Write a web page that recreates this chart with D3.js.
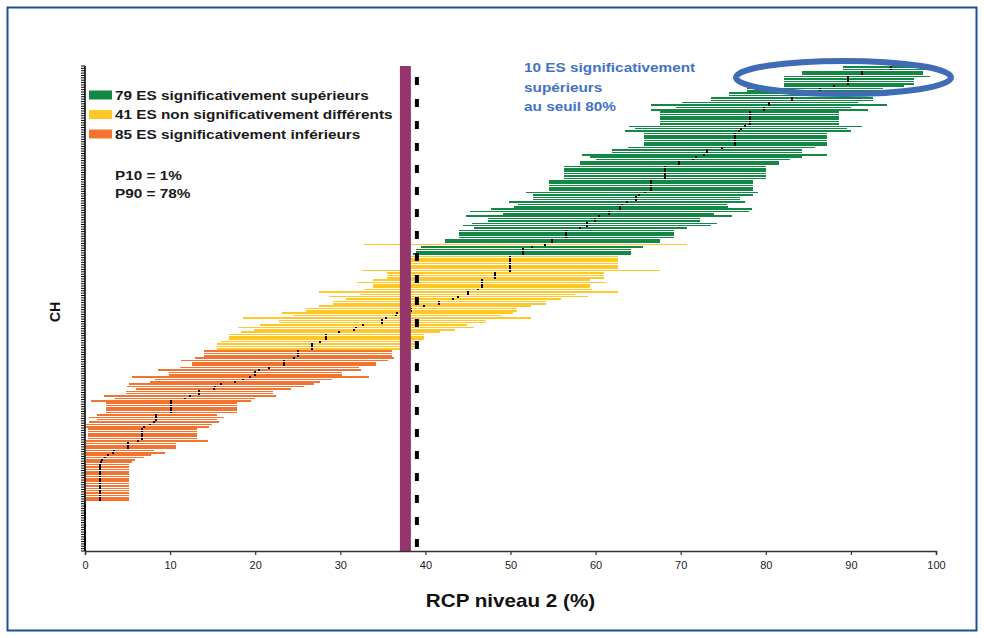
<!DOCTYPE html>
<html>
<head>
<meta charset="utf-8">
<script src="https://cdn.jsdelivr.net/npm/d3@7"></script>
<style>
  html, body { margin: 0; padding: 0; background: #ffffff; }
  svg { display: block; }
  text { font-family: "Liberation Sans", Arial, sans-serif; }
</style>
</head>
<body>
<svg id="chart" width="984" height="638"></svg>
<script>
// ---------------- DATA (rows from top to bottom, sorted by estimate) ----------------
// group: S = significativement supérieur, N = non significativement différent, I = significativement inférieur
const group = [
  "S","S","S","S","S","S","S","S","S","S","S","S","S","S","S","S","S","S","S","S",
  "S","S","S","S","S","S","S","S","S","S","S","S","S","S","S","S","S","S","S","S",
  "S","S","S","S","S","S","S","S","S","S","S","S","S","S","S","S","S","S","S","S",
  "S","S","S","S","S","S","S","S","S","S","S","S","S","S","S","N","S","S","S","S",
  "N","N","N","N","N","N","N","N","N","N","N","N","N","N","N","N","N","N","N","N",
  "N","N","N","N","N","N","N","N","N","N","N","N","N","N","N","N","N","N","N","N",
  "I","I","I","I","I","I","I","I","I","I","I","I","I","I","I","I","I","I","I","I",
  "I","I","I","I","I","I","I","I","I","I","I","I","I","I","I","I","I","I","I","I",
  "I","I","I","I","I","I","I","I","I","I","I","I","I","I","I","I","I","I","I","I",
  "I","I","I","I","I","I","I","I","I","I","I","I","I","I","I","I","I","I","I","I",
  "I","I","I","I","I"
];
const low = [
  89.1,89.1,84.3,84.3,82.1,82.1,82.1,82.1,82.1,77.8,77.8,75.7,75.7,73.6,73.6,70.2,66.5,69.5,66.5,67.6,
  67.6,67.6,67.6,67.6,67.6,63.9,64.6,63.5,65.7,65.7,65.7,65.7,65.7,65.7,63.8,61.9,61.9,58.4,59.3,60.0,
  58.2,58.2,56.3,56.3,56.3,56.3,56.3,56.3,54.5,54.5,54.5,54.5,54.5,51.8,52.6,52.6,52.6,49.8,50.9,50.4,
  47.7,45.2,49.1,44.8,47.4,47.4,45.5,44.4,45.7,43.9,43.9,43.9,43.9,42.3,42.3,32.8,39.5,38.9,38.9,38.6,
  37.4,37.4,37.4,37.4,37.4,37.4,32.5,35.5,35.5,35.5,33.8,32.0,33.8,33.8,32.9,27.5,32.3,28.7,30.7,29.1,
  29.1,27.5,26.0,26.0,23.1,24.4,18.6,22.8,22.8,20.6,18.0,19.9,18.3,16.9,16.9,16.9,16.0,15.5,15.5,15.5,
  14.0,14.0,14.0,12.9,11.3,12.6,12.6,11.2,8.6,9.9,9.9,5.5,8.2,7.6,5.2,4.9,6.0,4.8,4.8,2.2,
  3.5,0.7,2.5,2.5,2.5,2.5,2.5,1.4,0.5,1.4,0.5,0.1,0.1,0.35,0.35,0.35,0.35,0.35,0.1,0.1,
  0.1,0.1,0.1,0.1,0.1,0.1,0.1,0.1,0,0,0,0,0,0,0,0,0,0,0,0,
  0,0,0,0,0,0,0,0,0,0,0,0,0,0,0,0,0,0,0,0,
  0,0,0,0,0
];
const estimate = [
  94.7,94.7,91.3,91.3,89.7,89.7,89.7,89.7,88.0,86.4,86.4,84.7,84.7,83.1,83.1,80.4,80.4,79.8,79.8,78.1,
  78.1,78.1,78.1,78.1,78.1,77.6,77.1,76.8,76.4,76.4,76.4,76.4,76.4,76.4,74.8,73.1,73.1,72.7,71.8,71.4,
  69.8,69.8,68.2,68.2,68.2,68.2,68.2,68.2,66.5,66.5,66.5,66.5,66.5,65.8,65.1,64.8,64.8,63.7,63.1,62.9,
  62.9,61.6,61.6,60.4,59.9,59.9,59.0,59.0,58.2,56.5,56.5,56.5,56.5,54.9,54.9,54.1,52.5,51.5,51.5,51.5,
  49.9,49.9,49.9,49.9,49.9,49.9,49.9,48.2,48.2,48.2,46.6,46.6,46.6,46.6,46.2,45.0,45.0,43.8,43.2,41.6,
  41.6,39.8,38.3,38.3,36.7,36.5,35.4,34.9,34.9,32.7,31.8,31.6,29.9,28.3,28.3,28.3,27.6,26.7,26.7,26.7,
  25.0,25.0,25.0,24.6,23.4,23.4,23.4,21.6,20.4,20.0,20.0,19.4,18.6,17.6,16.0,15.3,15.1,13.4,13.4,12.3,
  11.7,10.1,10.1,10.1,10.1,10.1,10.1,8.4,8.4,8.4,8.1,7.6,6.9,6.7,6.7,6.7,6.7,6.7,6.2,5.1,
  5.1,5.1,3.4,3.3,2.7,2.4,2.0,1.9,1.8,1.8,1.8,1.8,1.8,1.8,1.8,1.8,1.8,1.8,1.8,1.8,
  1.8,1.8,1.8,1.8,0,0,0,0,0,0,0,0,0,0,0,0,0,0,0,0,
  0,0,0,0,0
];
const high = [
  99.3,99.5,98.5,98.5,99.3,97.4,97.4,97.4,96.2,93.8,93.8,92.6,93.9,92.6,92.6,90.8,94.3,90.0,92.0,88.6,
  88.6,88.6,88.6,88.6,88.6,91.3,89.5,90.0,87.2,87.2,87.2,87.2,87.2,87.2,85.8,84.3,84.3,87.2,84.3,82.9,
  81.5,81.5,80.0,80.0,80.0,80.0,80.0,80.0,78.5,78.5,78.5,78.5,78.5,79.1,78.5,77.0,77.0,77.6,75.4,75.6,
  78.4,78.0,73.9,76.0,72.3,72.3,74.3,73.6,70.7,69.2,69.2,69.2,69.2,67.6,67.6,70.7,65.6,64.2,64.2,64.2,
  62.6,62.6,62.6,62.6,62.6,62.6,67.6,61.0,61.0,61.0,59.3,61.2,59.3,59.3,59.6,62.6,57.6,59.1,55.9,54.2,
  54.2,52.4,50.8,50.8,50.3,48.9,52.4,47.1,47.1,44.9,45.7,43.5,41.7,39.8,39.8,39.8,39.2,39.2,38.9,38.6,
  36.1,36.1,36.1,36.3,35.6,34.2,34.2,32.2,32.4,30.2,30.2,33.4,29.0,27.6,26.9,25.7,24.2,22.1,22.1,22.4,
  20.0,19.5,17.9,17.9,17.9,17.9,17.9,15.5,16.3,15.5,15.7,14.9,14.6,13.2,13.2,13.2,13.2,13.2,14.5,10.7,
  10.7,10.7,8.1,9.4,7.8,6.9,5.9,5.5,5.2,5.2,5.2,5.2,5.2,5.2,5.2,5.2,5.2,5.2,5.2,5.2,
  5.2,5.2,5.2,5.2,0,0,0,0,0,0,0,0,0,0,0,0,0,0,0,0,
  0,0,0,0,0
];
const legendLabels = [
  "79 ES significativement supérieurs",
  "41 ES non significativement différents",
  "85 ES significativement inférieurs"
];
const legendGroups = ["S", "N", "I"];
const percentileLabels = ["P10 = 1%", "P90 = 78%"];
const annotationLines = ["10 ES significativement", "supérieurs", "au seuil 80%"];
const xTicks = [0, 10, 20, 30, 40, 50, 60, 70, 80, 90, 100];
const referenceValue = 37.65;   // thick purple line
const dashedValue = 39.0;       // dashed black line
const xTitle = "RCP niveau 2 (%)";
const yTitle = "CH";

// ---------------- STYLE / LAYOUT ----------------
const colors = { S: "#138744", N: "#ffc828", I: "#f37431" };
const svg = d3.select("#chart");
const plot = { left: 85, right: 936, top: 66, bottom: 551 };
const STRETCH = 1.18;

// outer frame
svg.append("rect")
  .attr("x", 7.5).attr("y", 7.5).attr("width", 969).attr("height", 623)
  .attr("fill", "none").attr("stroke", "#1d4f8f").attr("stroke-width", 2);

const x = d3.scaleLinear().domain([0, 100]).range([plot.left, plot.right]);
const rows = d3.range(group.length);
const y = d3.scaleBand().domain(rows).range([plot.top, plot.bottom]).padding(0);
const bw = y.bandwidth();
const barH = 1.6;

// bars (confidence intervals)
svg.append("g").attr("shape-rendering", "crispEdges")
  .selectAll("rect").data(rows).join("rect")
  .attr("x", i => x(low[i]))
  .attr("y", i => y(i) + (bw - barH) / 2)
  .attr("width", i => Math.max(0, x(high[i]) - x(low[i])))
  .attr("height", barH)
  .attr("fill", i => colors[group[i]]);

// point estimates
svg.append("g").attr("shape-rendering", "crispEdges")
  .selectAll("rect").data(rows).join("rect")
  .attr("x", i => x(estimate[i]) - 1)
  .attr("y", i => y(i) + (bw - 1.8) / 2)
  .attr("width", 2)
  .attr("height", 1.8)
  .attr("fill", "#000");

// reference purple line
svg.append("line")
  .attr("x1", x(referenceValue)).attr("x2", x(referenceValue))
  .attr("y1", plot.top).attr("y2", plot.bottom)
  .attr("stroke", "#94356b").attr("stroke-width", 11);

// dashed line
svg.append("line")
  .attr("x1", x(dashedValue)).attr("x2", x(dashedValue))
  .attr("y1", plot.top).attr("y2", plot.bottom)
  .attr("stroke", "#000").attr("stroke-width", 4)
  .attr("stroke-dasharray", "8,14").attr("stroke-dashoffset", 11);

// y axis with one tick per row boundary
const yAxisG = svg.append("g");
yAxisG.selectAll("line.tick").data(d3.range(group.length + 1)).join("line")
  .attr("class", "tick")
  .attr("x1", plot.left - 4).attr("x2", plot.left)
  .attr("y1", i => plot.top + i * bw).attr("y2", i => plot.top + i * bw)
  .attr("stroke", "#000").attr("stroke-width", 1);
yAxisG.append("line")
  .attr("x1", plot.left).attr("x2", plot.left)
  .attr("y1", plot.top).attr("y2", plot.bottom)
  .attr("stroke", "#000").attr("stroke-width", 1.5);

// x axis
const xAxis = d3.axisBottom(x).tickValues(xTicks).tickSize(4).tickPadding(6).tickFormat(d3.format("d"));
const xg = svg.append("g").attr("transform", `translate(0,${plot.bottom})`).call(xAxis);
xg.select(".domain").attr("stroke", "#333").attr("stroke-width", 1.5);
xg.selectAll(".tick line").attr("stroke", "#333").attr("stroke-width", 1.2);
xg.selectAll(".tick text").attr("font-size", 11).attr("fill", "#222")
  .attr("font-family", "'Liberation Sans', Arial, sans-serif");

// axis titles
svg.append("text")
  .attr("transform", `translate(${(plot.left + plot.right) / 2},607) scale(${STRETCH},1)`)
  .attr("text-anchor", "middle").attr("font-size", 17.5).attr("font-weight", "bold").attr("fill", "#111")
  .text(xTitle);
svg.append("text")
  .attr("transform", "translate(60,312) rotate(-90)")
  .attr("text-anchor", "middle").attr("font-size", 14).attr("font-weight", "bold").attr("fill", "#111")
  .text(yTitle);

// legend
const legend = svg.append("g");
legendGroups.forEach((g, k) => {
  const yy = 90.5 + k * 19.5;
  legend.append("rect").attr("x", 89).attr("y", yy).attr("width", 23).attr("height", 9)
    .attr("fill", colors[g]);
  legend.append("text")
    .attr("transform", `translate(115,${yy + 9}) scale(${STRETCH},1)`)
    .attr("font-size", 13).attr("font-weight", "bold").attr("fill", "#1a1a1a")
    .text(legendLabels[k]);
});
percentileLabels.forEach((t, k) => {
  legend.append("text")
    .attr("transform", `translate(115,${180 + k * 18.3}) scale(${STRETCH},1)`)
    .attr("font-size", 13).attr("font-weight", "bold").attr("fill", "#1a1a1a")
    .text(t);
});

// annotation
annotationLines.forEach((t, k) => {
  svg.append("text")
    .attr("transform", `translate(524,${72 + k * 19.5}) scale(${STRETCH},1)`)
    .attr("font-size", 13).attr("font-weight", "bold").attr("fill", "#4472c4")
    .text(t);
});
svg.append("ellipse")
  .attr("cx", 843.5).attr("cy", 77.5).attr("rx", 107.5).attr("ry", 16.5)
  .attr("fill", "none").attr("stroke", "#3f6cb5").attr("stroke-width", 6);
</script>
</body>
</html>
